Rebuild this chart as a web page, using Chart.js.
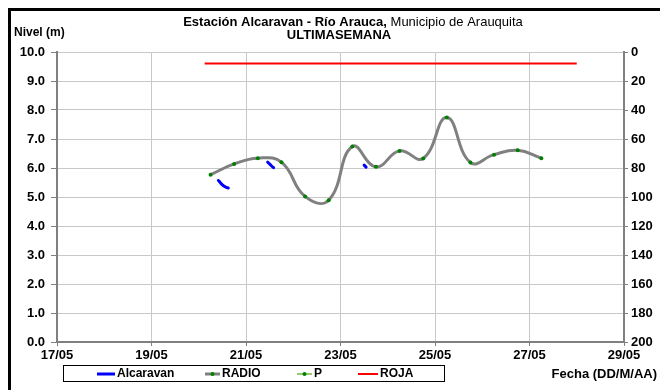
<!DOCTYPE html>
<html>
<head>
<meta charset="utf-8">
<title>Estación Alcaravan - Río Arauca</title>
<script src="https://cdn.jsdelivr.net/npm/chart.js@4.4.1/dist/chart.umd.min.js"></script>
<style>
	body { margin: 0; background: #ffffff; }
	canvas { display: block; }
</style>
</head>
<body>
<canvas id="nivelChart" width="660" height="390"></canvas>
<script>
	// fechas del eje x
	var xTickLabels = ["17/05", "19/05", "21/05", "23/05", "25/05", "27/05", "29/05"];

	// RADIO (cada 12 horas)
	var radioTimes = ["20/05 06:00", "20/05 18:00", "21/05 06:00", "21/05 18:00", "22/05 06:00",
		"22/05 18:00", "23/05 06:00", "23/05 18:00", "24/05 06:00", "24/05 18:00",
		"25/05 06:00", "25/05 18:00", "26/05 06:00", "26/05 18:00", "27/05 06:00"];
	var radioValues = [5.77, 6.14, 6.34, 6.20, 5.02, 4.89, 6.74, 6.04, 6.59, 6.33, 7.74, 6.19, 6.46, 6.61, 6.34];

	// sensor Alcaravan (tramos cortos, null = sin dato)
	var alcaravanTimes = ["20/05 10:00", "20/05 11:00", "20/05 12:00", "20/05 13:00", "20/05 14:00", "20/05 15:00",
		"21/05 00:00",
		"21/05 11:00", "21/05 12:00", "21/05 13:00", "21/05 14:00",
		"22/05 00:00",
		"23/05 12:00", "23/05 13:00"];
	var alcaravanValues = [5.57, 5.49, 5.42, 5.37, 5.33, 5.31,
		null,
		6.20, 6.14, 6.07, 6.01,
		null,
		6.10, 6.03];

	// precipitacion (eje derecho) - sin datos en la semana
	var pTimes = [];
	var pValues = [];

	// cota de alerta roja
	var rojaTimes = ["20/05 03:00", "28/05 00:00"];
	var rojaValues = [9.6, 9.6];

	var FONT = "Liberation Sans";

	function toDay(s) {
		var parts = s.split(" ");
		var d = parts[0].split("/").map(Number);
		var t = (parts[1] || "00:00").split(":").map(Number);
		return d[0] - 17 + t[0] / 24 + t[1] / 1440;
	}

	function points(times, values) {
		return times.map(function (t, i) {
			return { x: toDay(t), y: values[i] };
		});
	}

	var legendItems = [
		{ label: "Alcaravan", color: "#0000ff", width: 3, dot: false, x: 97, len: 18 },
		{ label: "RADIO", color: "#808080", width: 3, dot: true, x: 205, len: 15 },
		{ label: "P", color: "#99cc66", width: 2, dot: true, x: 297, len: 15 },
		{ label: "ROJA", color: "#ff0000", width: 2, dot: false, x: 358, len: 20 }
	];

	var framePlugin = {
		id: "framePlugin",
		afterDraw: function (chart) {
			var c = chart.ctx;
			c.save();

			// marco negro
			c.strokeStyle = "#000000";
			c.lineWidth = 3;
			c.beginPath();
			c.moveTo(9.5, 400);
			c.lineTo(9.5, 9.5);
			c.lineTo(670, 9.5);
			c.stroke();

			// titulo
			c.fillStyle = "#000000";
			c.textBaseline = "middle";
			var t1 = "Estación Alcaravan - Río Arauca,";
			var t2 = " Municipio de Arauquita";
			c.font = "bold 13px '" + FONT + "'";
			var w1 = c.measureText(t1).width;
			c.font = "13px '" + FONT + "'";
			var w2 = c.measureText(t2).width;
			var x0 = 353 - (w1 + w2) / 2;
			c.textAlign = "left";
			c.font = "bold 13px '" + FONT + "'";
			c.fillText(t1, x0, 22);
			c.font = "13px '" + FONT + "'";
			c.fillText(t2, x0 + w1, 22);
			c.font = "bold 13px '" + FONT + "'";
			c.textAlign = "center";
			c.fillText("ULTIMASEMANA", 339, 35);

			c.textAlign = "right";
			c.fillText("Fecha (DD/M/AA)", 657, 374);

			c.font = "bold 12px '" + FONT + "'";
			c.textAlign = "left";
			c.fillText("Nivel (m)", 14, 33);

			// leyenda
			c.strokeStyle = "#000000";
			c.lineWidth = 1;
			c.strokeRect(63.5, 365.5, 381, 16);
			legendItems.forEach(function (it) {
				c.strokeStyle = it.color;
				c.lineWidth = it.width;
				c.beginPath();
				c.moveTo(it.x, 374);
				c.lineTo(it.x + it.len, 374);
				c.stroke();
				if (it.dot) {
					c.fillStyle = "#008000";
					c.beginPath();
					c.arc(it.x + it.len / 2, 374, 2, 0, Math.PI * 2);
					c.fill();
				}
				c.fillStyle = "#000000";
				c.fillText(it.label, it.x + it.len + 2, 374);
			});

			c.restore();
		}
	};

	var ctx = document.getElementById("nivelChart").getContext("2d");
	var chart = new Chart(ctx, {
		type: "line",
		data: {
			datasets: [
				{
					label: "ROJA",
					data: points(rojaTimes, rojaValues),
					borderColor: "#ff0000",
					borderWidth: 2,
					pointRadius: 0,
					tension: 0,
					yAxisID: "y"
				},
				{
					label: "RADIO",
					data: points(radioTimes, radioValues),
					borderColor: "#808080",
					borderWidth: 3,
					pointRadius: 2,
					pointBorderWidth: 0,
					pointBackgroundColor: "#008000",
					tension: 0.45,
					yAxisID: "y"
				},
				{
					label: "Alcaravan",
					data: points(alcaravanTimes, alcaravanValues),
					borderColor: "#0000ff",
					borderWidth: 3,
					borderCapStyle: "round",
					pointRadius: 0,
					tension: 0.4,
					spanGaps: false,
					yAxisID: "y"
				},
				{
					label: "P",
					data: points(pTimes, pValues),
					borderColor: "#99cc66",
					borderWidth: 2,
					pointRadius: 2,
					pointBackgroundColor: "#008000",
					yAxisID: "y2"
				}
			]
		},
		options: {
			responsive: false,
			animation: false,
			layout: { padding: { top: 52, left: 0, right: 0, bottom: 0 } },
			plugins: {
				legend: { display: false },
				tooltip: { enabled: false }
			},
			scales: {
				x: {
					type: "linear",
					min: 0,
					max: 12,
					afterFit: function (s) { s.height = 48; },
					grid: { color: "#c8c8c8", tickColor: "#808080", tickLength: 4 },
					border: { color: "#808080", width: 2 },
					ticks: {
						stepSize: 2,
						autoSkip: false,
						maxRotation: 0,
						padding: 2,
						color: "#000000",
						font: { family: FONT, size: 13, weight: "bold" },
						callback: function (v) { return xTickLabels[v / 2]; }
					}
				},
				y: {
					position: "left",
					min: 0,
					max: 10,
					afterFit: function (s) { s.width = 57; },
					grid: { color: "#c8c8c8", tickColor: "#808080", tickLength: 6 },
					border: { color: "#808080", width: 2 },
					ticks: {
						stepSize: 1,
						padding: 6,
						color: "#000000",
						font: { family: FONT, size: 13, weight: "bold" },
						callback: function (v) { return v.toFixed(1); }
					}
				},
				y2: {
					position: "right",
					min: 0,
					max: 200,
					reverse: true,
					afterFit: function (s) { s.width = 36; },
					grid: { drawOnChartArea: false, color: "#808080", tickLength: 4 },
					border: { color: "#808080", width: 2 },
					ticks: {
						stepSize: 20,
						padding: 3,
						color: "#000000",
						font: { family: FONT, size: 13, weight: "bold" }
					}
				}
			}
		},
		plugins: [framePlugin]
	});
</script>
</body>
</html>
